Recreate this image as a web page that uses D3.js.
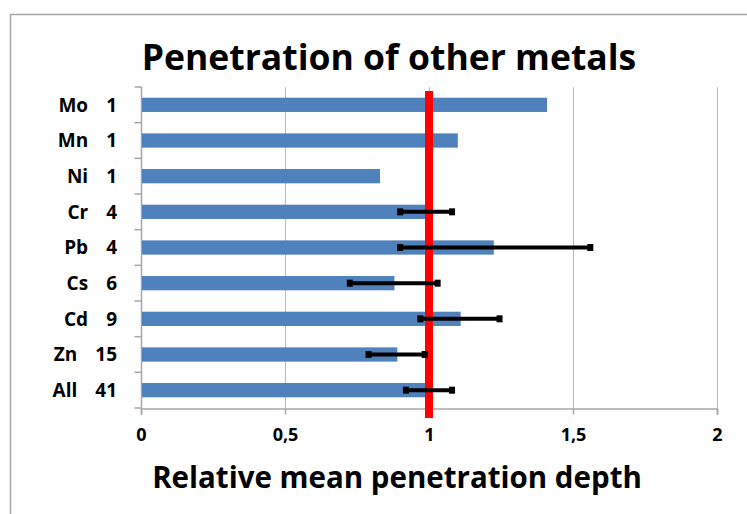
<!DOCTYPE html>
<html><head><meta charset="utf-8">
<script src="https://cdn.jsdelivr.net/npm/d3@7/dist/d3.min.js"></script>
<style>body{margin:0;background:#fff;} text{font-family:"Open Sans",sans-serif;font-weight:bold;fill:#000;}</style>
</head><body><svg id="c" width="747" height="514"></svg>
<script>
const categories = ["Mo", "Mn", "Ni", "Cr", "Pb", "Cs", "Cd", "Zn", "All"];
const counts = [1, 1, 1, 4, 4, 6, 9, 15, 41];
const values = [1.41, 1.10, 0.83, 0.99, 1.225, 0.88, 1.11, 0.89, 0.99];
const errLow = [null, null, null, 0.90, 0.90, 0.725, 0.97, 0.79, 0.92];
const errHigh = [null, null, null, 1.08, 1.56, 1.03, 1.245, 0.985, 1.08];
const xTicks = [0, 0.5, 1, 1.5, 2];
const referenceValue = 1;

const svg = d3.select("#c");
svg.append("rect").attr("x",10.5).attr("y",14.5).attr("width",800).attr("height",600)
  .attr("fill","#fff").attr("stroke","#a6a6a6").attr("stroke-width",1.5);

const pL=141, pR=717, pT=87, pB=408;
const x = d3.scaleLinear().domain([0,2]).range([pL,pR]);
const y = d3.scaleBand().domain(categories).range([pT,pB]).paddingInner(0.6).paddingOuter(0.3);

// gridlines
svg.append("g").selectAll("line").data(xTicks.slice(1)).join("line")
  .attr("x1",d=>x(d)+0.5).attr("x2",d=>x(d)+0.5).attr("y1",pT).attr("y2",pB)
  .attr("stroke","#bfbfbf").attr("stroke-width",1.2);

// axes
const xAxis = svg.append("g").attr("transform",`translate(0,${pB+0.5})`)
  .call(d3.axisBottom(x).tickValues(xTicks).tickSize(6).tickPadding(14)
    .tickFormat(d=>String(d).replace(".",",")));
xAxis.select(".domain").attr("stroke","#a6a6a6").attr("stroke-width",1.5);
xAxis.selectAll(".tick line").attr("stroke","#a6a6a6").attr("stroke-width",1.5);
xAxis.selectAll("text").style("font-size","18px").attr("fill","#000").attr("font-family",null);

const yLine = d3.scaleLinear().domain([0,categories.length]).range([pT,pB]);
const yg = svg.append("g").attr("transform",`translate(${pL+0.5},0)`);
yg.append("line").attr("x1",0).attr("x2",0).attr("y1",pT).attr("y2",pB).attr("stroke","#a6a6a6").attr("stroke-width",1.5);
yg.selectAll("line.t").data(d3.range(categories.length+1)).join("line").attr("class","t")
  .attr("x1",-7).attr("x2",0).attr("y1",d=>yLine(d)).attr("y2",d=>yLine(d))
  .attr("stroke","#a6a6a6").attr("stroke-width",1.5);

// bars
svg.append("g").selectAll("rect").data(categories).join("rect")
  .attr("x",x(0)+1).attr("y",d=>y(d)).attr("height",y.bandwidth())
  .attr("width",(d,i)=>x(values[i])-x(0)-1).attr("fill","#4f81bd");

// labels: count right-aligned, name before it
const lg = svg.append("g");
categories.forEach((c,i)=>{
  const cy = y(c)+y.bandwidth()/2;
  const ct = lg.append("text").attr("x",117).attr("y",cy).attr("dy","0.36em")
    .attr("text-anchor","end").style("font-size","19px").text(counts[i]);
  const w = ct.node().getComputedTextLength();
  lg.append("text").attr("x",117-w-18).attr("y",cy).attr("dy","0.36em")
    .attr("text-anchor","end").style("font-size","19px").text(c);
});

// red reference line
svg.append("line").attr("x1",x(referenceValue)).attr("x2",x(referenceValue))
  .attr("y1",pT+4).attr("y2",pB+10).attr("stroke","#ff0000").attr("stroke-width",8);

// error bars
const eg = svg.append("g");
categories.forEach((c,i)=>{
  if(errLow[i]==null) return;
  const cy = y(c)+y.bandwidth()/2;
  eg.append("line").attr("x1",x(errLow[i])).attr("x2",x(errHigh[i])).attr("y1",cy).attr("y2",cy)
    .attr("stroke","#000").attr("stroke-width",4);
  [errLow[i],errHigh[i]].forEach(v=>{
    eg.append("rect").attr("x",x(v)-3).attr("y",cy-3.5).attr("width",6).attr("height",7).attr("fill","#000");
  });
});

// titles
svg.append("text").attr("x",389).attr("y",70).attr("text-anchor","middle").style("font-size","35.5px")
  .text("Penetration of other metals");
svg.append("text").attr("x",397).attr("y",488).attr("text-anchor","middle").style("font-size","29.5px")
  .text("Relative mean penetration depth");
</script></body></html>
